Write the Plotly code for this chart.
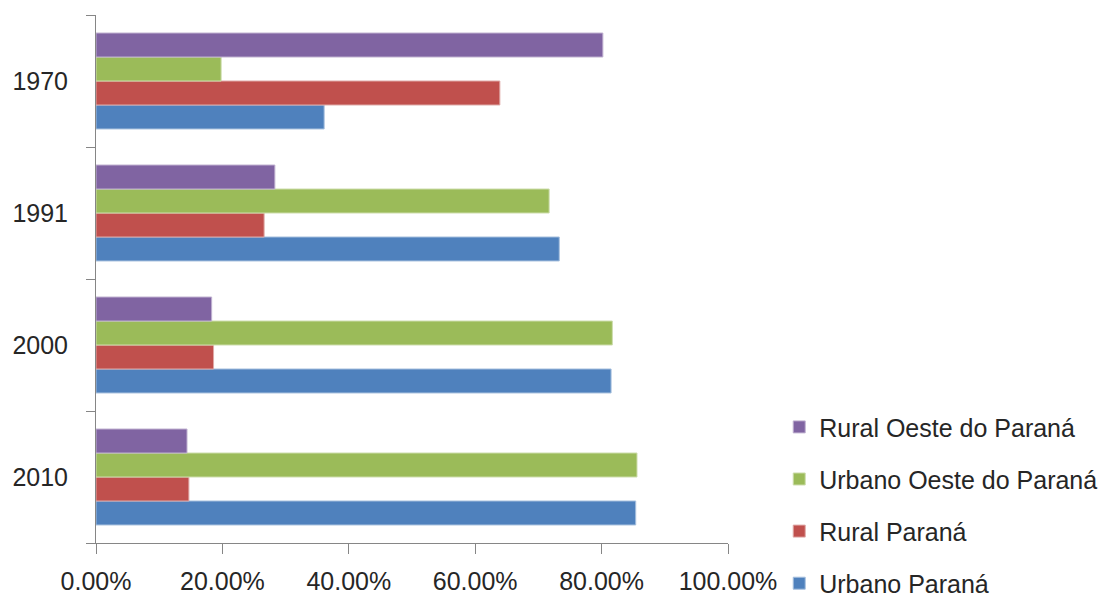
import plotly.graph_objects as go

years = ["1970", "1991", "2000", "2010"]
series_names = ["Urbano Paraná", "Rural Paraná", "Urbano Oeste do Paraná", "Rural Oeste do Paraná"]
urbano_parana = [0.361, 0.733, 0.815, 0.854]
rural_parana = [0.639, 0.266, 0.186, 0.147]
urbano_oeste = [0.198, 0.717, 0.817, 0.856]
rural_oeste = [0.802, 0.283, 0.183, 0.144]
series_values = [urbano_parana, rural_parana, urbano_oeste, rural_oeste]
legend_ranks = [4, 3, 2, 1]
colors = ["#4F81BD", "#C0504D", "#9BBB59", "#8064A2"]
line_colors = ["#A7C0DE", "#DFA8A6", "#CDDDAC", "#BFB1D0"]
x_ticks = [0, 0.2, 0.4, 0.6, 0.8, 1.0]

FONT = "Liberation Sans, Arial, sans-serif"
TXT = "#262626"
AX = "#868686"

fig = go.Figure()
for name, vals, c, lc, rk in zip(series_names, series_values, colors, line_colors, legend_ranks):
    fig.add_trace(go.Bar(
        y=years, x=vals, name=name, orientation="h",
        marker=dict(color=c, line=dict(color=lc, width=1)),
        legendgroup=name, legendrank=rk,
    ))

fig.update_layout(
    width=1110, height=599,
    margin=dict(l=96, r=382, t=15, b=56, autoexpand=False),
    paper_bgcolor="white", plot_bgcolor="white",
    barmode="group", bargap=0.273, bargroupgap=0,
    font=dict(family=FONT, size=25, color=TXT),
    showlegend=True,
    legend=dict(
        xref="container", yref="container",
        x=0.702, y=0.3253, xanchor="left", yanchor="top",
        traceorder="grouped", tracegroupgap=16.6,
        font=dict(family=FONT, size=25, color=TXT),
        bgcolor="rgba(0,0,0,0)",
    ),
    xaxis=dict(
        range=[0, 1], tickvals=x_ticks, tickformat=".2%",
        showline=True, linecolor=AX, linewidth=1,
        ticks="outside", ticklen=10, tickcolor=AX, tickwidth=1,
        ticklabelstandoff=6,
        showgrid=False, zeroline=False,
        tickfont=dict(family=FONT, size=25, color=TXT),
    ),
    yaxis=dict(
        type="category", categoryorder="array",
        categoryarray=["2010", "2000", "1991", "1970"],
        showline=True, linecolor=AX, linewidth=1,
        ticks="outside", ticklen=9, tickcolor=AX, tickwidth=1,
        tickson="boundaries", ticklabelstandoff=22,
        showgrid=False, zeroline=False,
        tickfont=dict(family=FONT, size=25, color=TXT),
    ),
)

fig.write_html("out.html")
